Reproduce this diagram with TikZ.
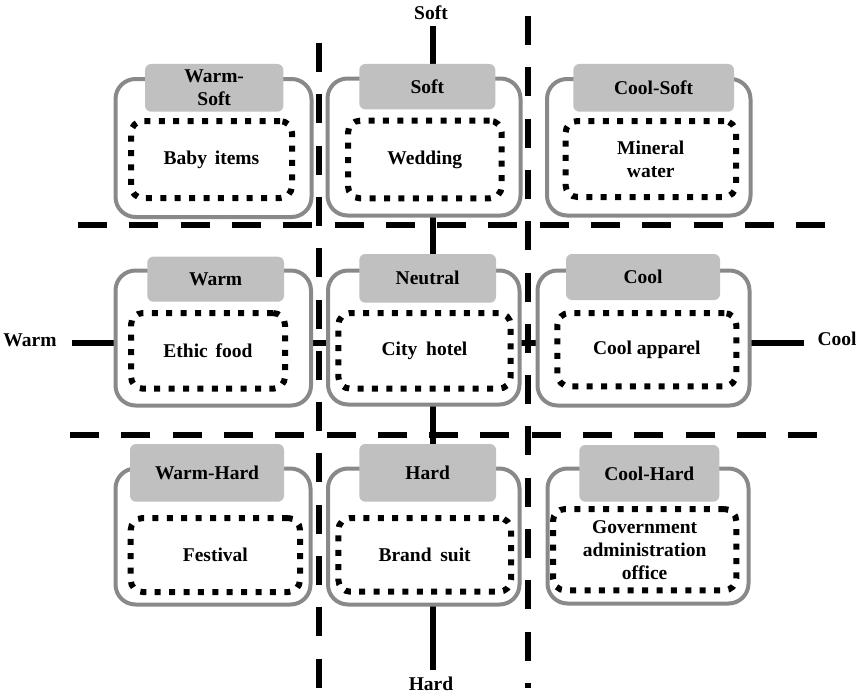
\documentclass[tikz,border=0pt]{standalone}
\usepackage{fontspec}
\setmainfont{Liberation Serif}
\definecolor{boxgray}{HTML}{898989}
\definecolor{headgray}{HTML}{C0C0C0}
\begin{document}
\begin{tikzpicture}[x=1pt,y=-1pt,
  font=\fontsize{19.5}{23}\selectfont\bfseries,
  outerbox/.style={draw=boxgray, line width=4pt, rounded corners=20pt, fill=white, inner sep=0pt},
  headbox/.style={fill=headgray, rounded corners=6pt, inner sep=0pt, align=center},
  itembox/.style={draw=black, line width=6pt, dash pattern=on 6pt off 8.4pt,
                  rounded corners=12pt, inner sep=0pt, align=center},
  axisline/.style={line width=6.5pt},
  gridline/.style={line width=6.5pt, dash pattern=on 29pt off 22.3pt},
  axislabel/.style={inner sep=0pt, anchor=base}]
\useasboundingbox (0,0) rectangle (856,693);

% axis labels
\node[axislabel] (soft) at (431,20) {Soft};
\node[axislabel] (hard) at (431,690) {Hard};
\node[axislabel] (warm) at (30,346) {Warm};
\node[axislabel] (cool) at (837,345) {Cool};

% solid axes, drawn behind the boxes
\coordinate (softtip) at (433,26);
\coordinate (hardtip) at (433,670);
\coordinate (warmtip) at (72,343);
\coordinate (cooltip) at (804,343);
\draw[axisline] (softtip) -- (hardtip);
\draw[axisline] (warmtip) -- (cooltip);

% dashed dividers
\coordinate (hA1) at (78,225);  \coordinate (hA2) at (826,225);
\coordinate (hB1) at (70,435);  \coordinate (hB2) at (818,435);
\coordinate (vA1) at (319,43);  \coordinate (vA2) at (319,688);
\coordinate (vB1) at (528,16);  \coordinate (vB2) at (528,688);
\draw[gridline] (hA1) -- (hA2);
\draw[gridline] (hB1) -- (hB2);
\draw[gridline] (vA1) -- (vA2);
\draw[gridline] (vB1) -- (vB2);

% row 1
\node[outerbox, minimum width=196pt, minimum height=138pt] (o11) at (213.5,148) {};
\node[outerbox, minimum width=193pt, minimum height=137pt] (o12) at (424,147) {};
\node[outerbox, minimum width=203.5pt, minimum height=136.5pt] (o13) at (648.75,147.25) {};
\node[headbox, minimum width=138.3pt, minimum height=47.7pt] (h11) at (214.2,87.85) {Warm-\\Soft};
\node[headbox, minimum width=136pt, minimum height=45.3pt] (h12) at (427.3,86.65) {Soft};
\node[headbox, minimum width=160.7pt, minimum height=47.7pt] (h13) at (653.65,87.85) {Cool-Soft};
\node[itembox, minimum width=161pt, minimum height=77pt] (i11) at (211.5,159.5) {Baby\hspace{0.4em}items};
\node[itembox, minimum width=153.7pt, minimum height=77.6pt] (i12) at (424.85,159.5) {Wedding};
\node[itembox, minimum width=170.5pt, minimum height=76pt] (i13) at (650.75,159) {Mineral\\water};

% row 2
\node[outerbox, minimum width=195.5pt, minimum height=135pt] (o21) at (213.25,338) {};
\node[outerbox, minimum width=191.5pt, minimum height=134pt] (o22) at (423.75,337.5) {};
\node[outerbox, minimum width=212pt, minimum height=135pt] (o23) at (643.5,338) {};
\node[headbox, minimum width=136.7pt, minimum height=45pt] (h21) at (215.65,279.2) {Warm};
\node[headbox, minimum width=136.7pt, minimum height=48.7pt] (h22) at (427.65,278.35) {Neutral};
\node[headbox, minimum width=154pt, minimum height=46pt] (h23) at (643,277) {Cool};
\node[itembox, minimum width=154pt, minimum height=75.7pt] (i21) at (208,350.85) {Ethic\hspace{0.4em}food};
\node[itembox, minimum width=172.4pt, minimum height=75.7pt] (i22) at (424.5,350.85) {City\hspace{0.2em} hotel};
\node[itembox, minimum width=179pt, minimum height=73.3pt] (i23) at (646.8,349.65) {Cool apparel};

% row 3
\node[outerbox, minimum width=195pt, minimum height=136pt] (o31) at (213,536.5) {};
\node[outerbox, minimum width=191.5pt, minimum height=136pt] (o32) at (423.75,536.5) {};
\node[outerbox, minimum width=201pt, minimum height=135pt] (o33) at (648,536) {};
\node[headbox, minimum width=154pt, minimum height=57.7pt] (h31) at (207,472.85) {Warm-Hard};
\node[headbox, minimum width=136.7pt, minimum height=57.7pt] (h32) at (427.65,472.85) {Hard};
\node[headbox, minimum width=140pt, minimum height=56.7pt] (h33) at (649.3,473.35) {Cool-Hard};
\node[itembox, minimum width=169.3pt, minimum height=74pt] (i31) at (215.35,555) {Festival};
\node[itembox, minimum width=172.7pt, minimum height=73.7pt] (i32) at (424.65,554.85) {Brand\hspace{0.2em} suit};
\node[itembox, minimum width=183.3pt, minimum height=81.3pt] (i33) at (644.65,549.65) {Government\\administration\\office};
\end{tikzpicture}
\end{document}
